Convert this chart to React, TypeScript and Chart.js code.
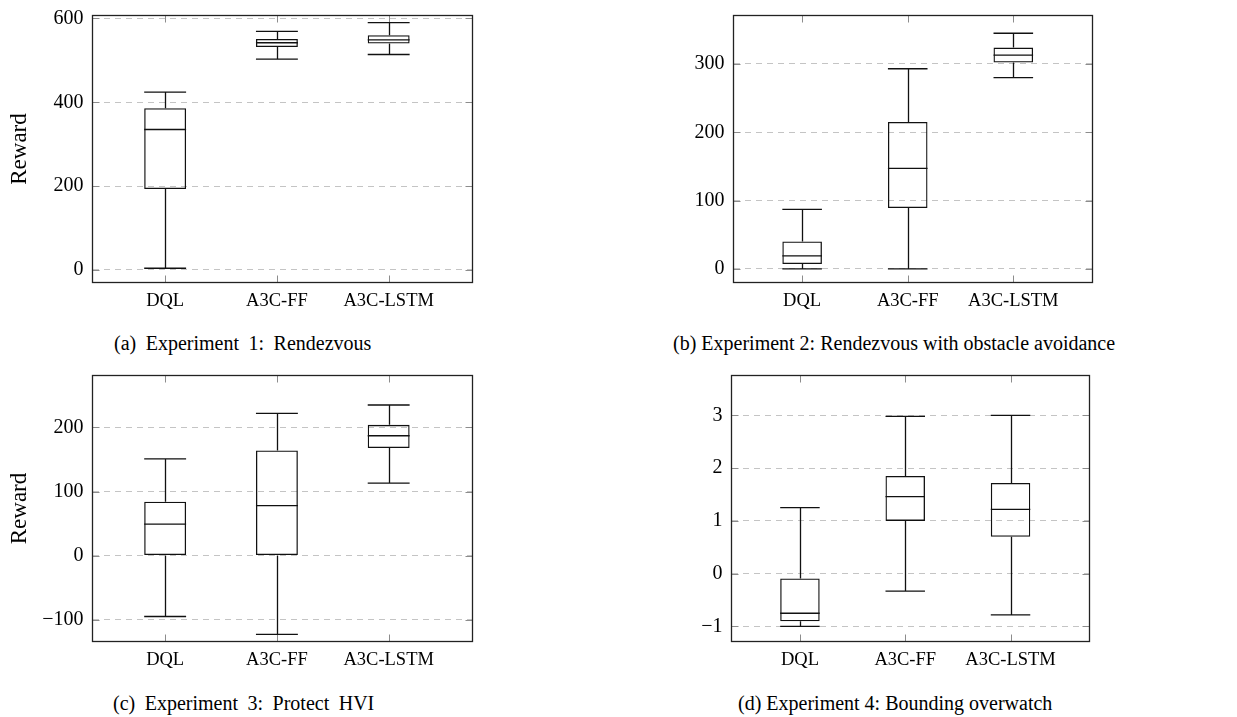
import React, { useEffect, useRef } from "react";
import { Chart, registerables } from "chart.js";

Chart.register(...registerables);

// ---- data ----
const categories = ["DQL", "A3C-FF", "A3C-LSTM"];
const categoryPositions = [1, 2, 3];

// five-number summaries per method: [min, q1, median, q3, max]
const exp1Stats = [
  [4, 193, 335, 386, 424],
  [503, 532, 542, 551, 569],
  [514, 540, 549, 560, 590],
];
const exp2Stats = [
  [0, 7, 19, 40, 87],
  [0, 89, 147, 215, 293],
  [280, 302, 313, 324, 345],
];
const exp3Stats = [
  [-95, 0, 49, 84, 151],
  [-123, 0, 78, 164, 222],
  [113, 168, 187, 204, 235],
];
const exp4Stats = [
  [-1.0, -0.9, -0.75, -0.09, 1.25],
  [-0.33, 1.0, 1.46, 1.85, 2.98],
  [-0.78, 0.7, 1.22, 1.72, 3.0],
];

const exp1Ticks = [0, 200, 400, 600];
const exp2Ticks = [0, 100, 200, 300];
const exp3Ticks = [-100, 0, 100, 200];
const exp4Ticks = [-1, 0, 1, 2, 3];

const captions = [
  "(a) Experiment 1: Rendezvous",
  "(b) Experiment 2: Rendezvous with obstacle avoidance",
  "(c) Experiment 3: Protect HVI",
  "(d) Experiment 4: Bounding overwatch",
];

// ---- layout ----
const FONT = "'Liberation Serif', 'Times New Roman', serif";

type Panel = {
  stats: number[][];
  ticks: number[];
  yMin: number;
  yMax: number;
  title?: string;
  canvas: { x: number; y: number; w: number; h: number };
  plot: { l: number; t: number; r: number; b: number };
};

const panels: Panel[] = [
  {
    stats: exp1Stats, ticks: exp1Ticks, yMin: -30, yMax: 607, title: "Reward",
    canvas: { x: 0, y: 0, w: 490, h: 310 },
    plot: { l: 92.5, t: 15.5, r: 472.5, b: 282.5 },
  },
  {
    stats: exp2Stats, ticks: exp2Ticks, yMin: -20, yMax: 371,
    canvas: { x: 620, y: 0, w: 490, h: 310 },
    plot: { l: 733.5, t: 15.5, r: 1092.5, b: 282.5 },
  },
  {
    stats: exp3Stats, ticks: exp3Ticks, yMin: -134, yMax: 281, title: "Reward",
    canvas: { x: 0, y: 360, w: 490, h: 310 },
    plot: { l: 92.5, t: 375.5, r: 472.5, b: 641.5 },
  },
  {
    stats: exp4Stats, ticks: exp4Ticks, yMin: -1.285, yMax: 3.755,
    canvas: { x: 620, y: 360, w: 490, h: 310 },
    plot: { l: 731.5, t: 375.5, r: 1089.5, b: 641.5 },
  },
];

const captionPos = [
  { left: 114, top: 333, ws: 4.5 },
  { left: 673, top: 333, ws: 0 },
  { left: 113, top: 693, ws: 4.5 },
  { left: 738, top: 693, ws: 0 },
];

const fmt = (v: number) => String(v).replace("-", "\u2212");

const boxPlugin = {
  id: "boxExtras",
  afterDatasetsDraw(chart: any, _args: any, opts: any) {
    const stats: number[][] = opts.stats;
    const ctx = chart.ctx;
    const ys = chart.scales.y;
    const xs = chart.scales.x;
    const area = chart.chartArea;
    const meta = chart.getDatasetMeta(0);
    ctx.save();

    // tick marks on the frame
    ctx.strokeStyle = "#8c8c8c";
    ctx.lineWidth = 1;
    const tl = 7;
    ys.ticks.forEach((t: any) => {
      const py = Math.round(ys.getPixelForValue(t.value)) + 0.5;
      ctx.beginPath();
      ctx.moveTo(area.left, py); ctx.lineTo(area.left + tl, py);
      ctx.moveTo(area.right, py); ctx.lineTo(area.right - tl, py);
      ctx.stroke();
    });
    xs.ticks.forEach((t: any) => {
      const px = Math.round(xs.getPixelForValue(t.value)) + 0.5;
      ctx.beginPath();
      ctx.moveTo(px, area.top); ctx.lineTo(px, area.top + tl);
      ctx.moveTo(px, area.bottom); ctx.lineTo(px, area.bottom - tl);
      ctx.stroke();
    });

    // whiskers, caps, medians
    ctx.strokeStyle = "#111";
    ctx.lineWidth = 1.3;
    stats.forEach((s, i) => {
      const bar = meta.data[i];
      if (!bar) return;
      const half = bar.width / 2;
      const cx = Math.round(bar.x) + 0.5;
      const p = (v: number) => ys.getPixelForValue(v);
      ctx.beginPath();
      ctx.moveTo(cx, p(s[0])); ctx.lineTo(cx, p(s[1]));
      ctx.moveTo(cx, p(s[3])); ctx.lineTo(cx, p(s[4]));
      ctx.moveTo(bar.x - half, p(s[0])); ctx.lineTo(bar.x + half, p(s[0]));
      ctx.moveTo(bar.x - half, p(s[4])); ctx.lineTo(bar.x + half, p(s[4]));
      ctx.moveTo(bar.x - half, p(s[2])); ctx.lineTo(bar.x + half, p(s[2]));
      ctx.stroke();
    });

    // frame
    ctx.strokeStyle = "#222";
    ctx.lineWidth = 1.3;
    ctx.strokeRect(area.left, area.top, area.right - area.left, area.bottom - area.top);
    ctx.restore();
  },
};

function BoxPanel({ panel }: { panel: Panel }) {
  const ref = useRef<HTMLCanvasElement | null>(null);
  useEffect(() => {
    if (!ref.current) return;
    const { canvas, plot } = panel;
    const yWidth = plot.l - canvas.x;
    const xHeight = canvas.y + canvas.h - plot.b;
    const chart = new Chart(ref.current, {
      type: "bar",
      data: {
        datasets: [
          {
            data: panel.stats.map((s, i) => ({ x: categoryPositions[i], y: [s[1], s[3]] })) as any,
            backgroundColor: "rgba(0,0,0,0)",
            borderColor: "#111",
            borderWidth: 1.3,
            borderSkipped: false,
            categoryPercentage: 1,
            barPercentage: 0.375,
          } as any,
        ],
      },
      options: {
        responsive: false,
        animation: false,
        events: [],
        layout: {
          padding: {
            left: 0,
            top: plot.t - canvas.y,
            right: canvas.x + canvas.w - plot.r,
            bottom: 0,
          },
        },
        plugins: {
          legend: { display: false },
          tooltip: { enabled: false },
          title: { display: false },
          boxExtras: { stats: panel.stats },
        } as any,
        scales: {
          x: {
            type: "linear",
            offset: false,
            min: 0.35,
            max: 3.75,
            afterBuildTicks: (s: any) => {
              s.ticks = categoryPositions.map((v) => ({ value: v }));
            },
            afterFit: (s: any) => {
              s.height = xHeight;
              s.paddingLeft = 0;
              s.paddingRight = 0;
            },
            grid: { display: false, drawTicks: false, offset: false },
            border: { display: false },
            ticks: {
              padding: 8,
              color: "#000",
              maxRotation: 0,
              autoSkip: false,
              font: { family: FONT, size: 18.5 },
              callback: (v: any) => categories[categoryPositions.indexOf(Number(v))] ?? "",
            },
          } as any,
          y: {
            type: "linear",
            min: panel.yMin,
            max: panel.yMax,
            afterBuildTicks: (s: any) => {
              s.ticks = panel.ticks.map((v) => ({ value: v }));
            },
            afterFit: (s: any) => {
              s.width = yWidth;
              s.paddingTop = 0;
              s.paddingBottom = 0;
            },
            grid: { color: "#c4c4c4", lineWidth: 1, drawTicks: false },
            border: { display: false, dash: [6, 5] },
            ticks: {
              padding: 9,
              color: "#000",
              autoSkip: false,
              font: { family: FONT, size: 20 },
              callback: (v: any) => fmt(Number(v)),
            },
            title: {
              display: !!panel.title,
              text: panel.title ?? "",
              color: "#000",
              font: { family: FONT, size: 23 },
              padding: { top: 6, bottom: 0 },
            },
          },
        },
      },
      plugins: [boxPlugin as any],
    });
    return () => chart.destroy();
  }, [panel]);

  return (
    <canvas
      ref={ref}
      width={panel.canvas.w}
      height={panel.canvas.h}
      style={{
        position: "absolute",
        left: panel.canvas.x,
        top: panel.canvas.y,
        width: panel.canvas.w,
        height: panel.canvas.h,
      }}
    />
  );
}

export default function App() {
  return (
    <div
      style={{
        position: "absolute",
        left: 0,
        top: 0,
        width: 1237,
        height: 717,
        background: "#fff",
        overflow: "hidden",
      }}
    >
      {panels.map((p, i) => (
        <BoxPanel key={i} panel={p} />
      ))}
      {captions.map((c, i) => (
        <div
          key={"c" + i}
          style={{
            position: "absolute",
            left: captionPos[i].left,
            top: captionPos[i].top,
            fontFamily: FONT,
            fontSize: 20,
            lineHeight: "20px",
            wordSpacing: captionPos[i].ws,
            whiteSpace: "nowrap",
            color: "#000",
          }}
        >
          {c}
        </div>
      ))}
    </div>
  );
}
